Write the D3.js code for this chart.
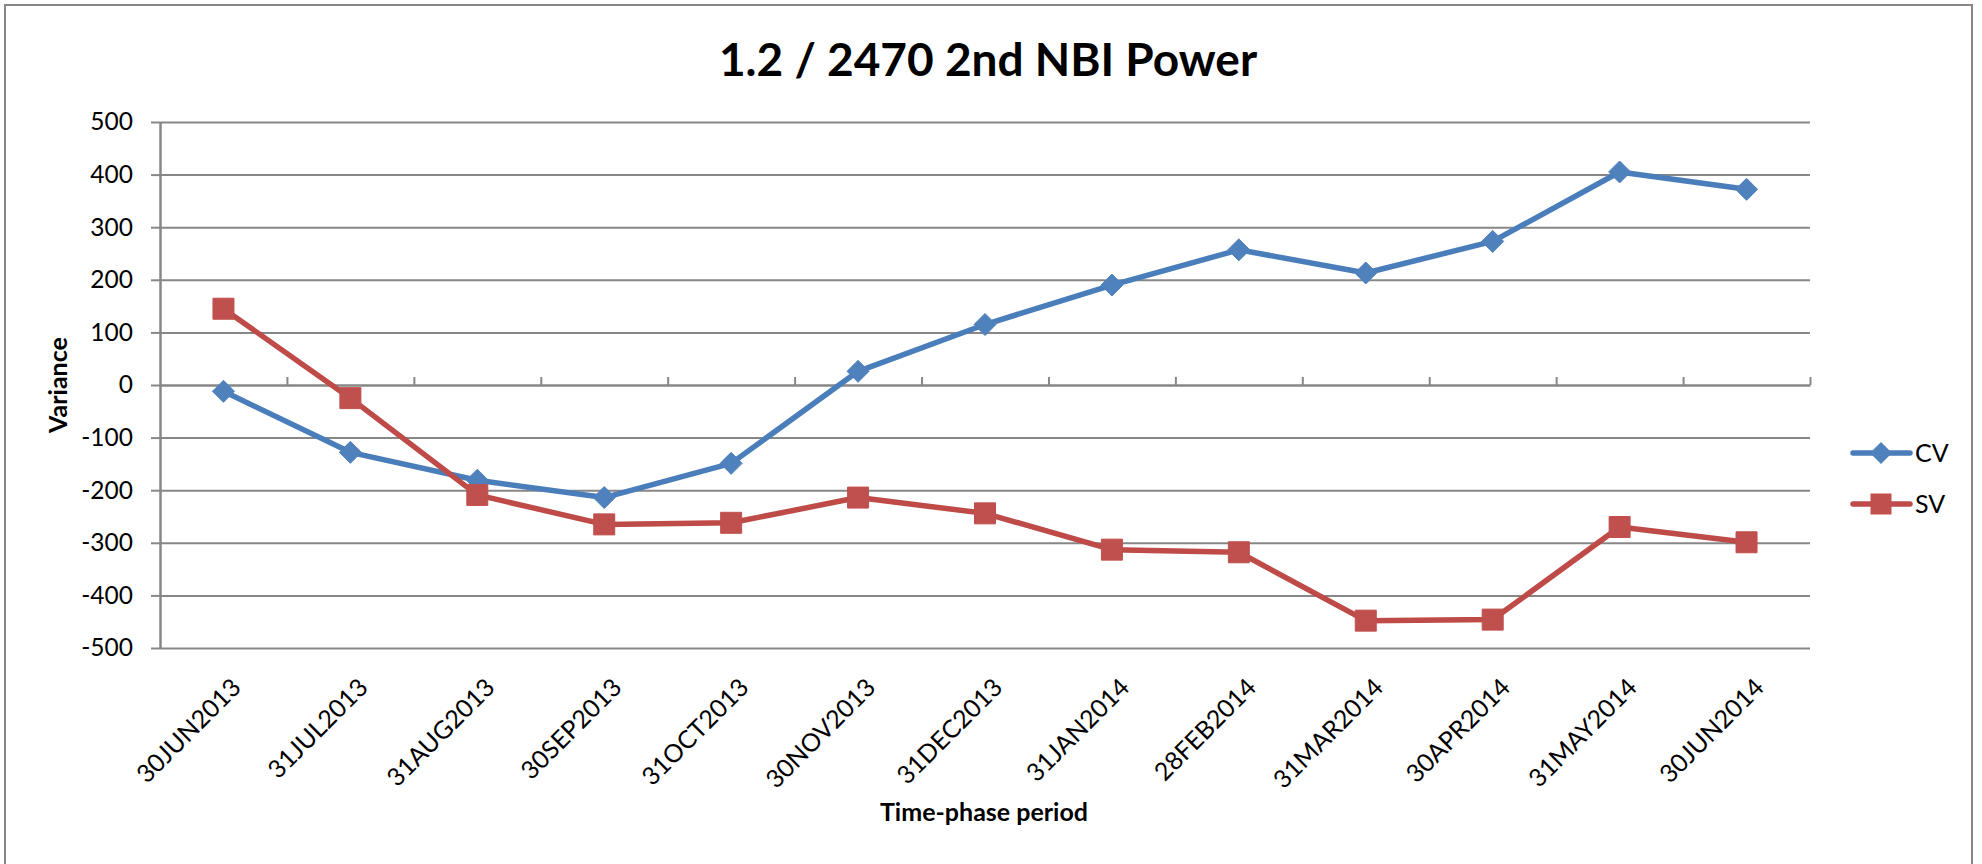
<!DOCTYPE html>
<html>
<head>
<meta charset="utf-8">
<script src="https://cdnjs.cloudflare.com/ajax/libs/d3/7.8.5/d3.min.js"></script>
<style>
  html, body { margin: 0; padding: 0; background: #fff; }
  svg { display: block; }
</style>
</head>
<body>
<div id="chart"></div>
<script>
// ---- data ----
const categories = ["30JUN2013","31JUL2013","31AUG2013","30SEP2013","31OCT2013","30NOV2013","31DEC2013","31JAN2014","28FEB2014","31MAR2014","30APR2014","31MAY2014","30JUN2014"];
const cvValues = [-12, -128, -181, -214, -149, 26, 115, 190, 257, 213, 273, 405, 372];
const svValues = [145, -25, -209, -265, -262, -214, -244, -313, -318, -448, -446, -270, -299];
const yTickValues = [-500, -400, -300, -200, -100, 0, 100, 200, 300, 400, 500];
const seriesNames = ["CV", "SV"];
const titleText = "1.2 / 2470 2nd NBI Power";
const xTitle = "Time-phase period";
const yTitle = "Variance";

// ---- layout ----
const W = 1982, H = 864;
const plot = { left: 160, right: 1810, top: 122, bottom: 648 };
const gridColor = "#878787";
const cvLine = "#4A7EBB", cvFill = "#4F81BD";
const svLine = "#BE4B48", svFill = "#C0504D";
const FONT = "Lato, 'Open Sans', sans-serif";

const svg = d3.select("#chart").append("svg")
  .attr("width", W).attr("height", H);

svg.append("rect").attr("width", W).attr("height", H).attr("fill", "#fff");
svg.append("rect")
  .attr("x", 5).attr("y", 5).attr("width", 1967).attr("height", 920)
  .attr("fill", "none").attr("stroke", gridColor).attr("stroke-width", 2);

const x = d3.scaleBand().domain(categories).range([plot.left, plot.right]).paddingInner(0).paddingOuter(0);
const xc = d => x(d) + x.bandwidth() / 2;
const y = d3.scaleLinear().domain([-500, 500]).range([plot.bottom, plot.top]);
const xBound = d3.scaleLinear().domain([0, categories.length]).range([plot.left, plot.right]);

// gridlines
const grid = svg.append("g").attr("transform", `translate(${plot.left},0)`)
  .call(d3.axisLeft(y).tickValues(yTickValues.filter(v => v !== 0)).tickSize(-(plot.right - plot.left)).tickFormat(""));
grid.select(".domain").remove();
grid.selectAll("line").attr("stroke", gridColor).attr("stroke-width", 2);

// y axis
const yAxis = svg.append("g").attr("transform", `translate(${plot.left},0)`)
  .call(d3.axisLeft(y).tickValues(yTickValues).tickSize(9).tickSizeOuter(0).tickPadding(18).tickFormat(d3.format("d")));
yAxis.select(".domain").attr("stroke", gridColor).attr("stroke-width", 2.5);
yAxis.selectAll("line").attr("stroke", gridColor).attr("stroke-width", 2);
yAxis.selectAll("text").attr("font-family", FONT).attr("font-size", 24.5).attr("fill", "#000")
  .text(d => d < 0 ? "-" + Math.abs(d) : d);

// x axis line at 0 with boundary ticks pointing up
const xAxis = svg.append("g").attr("transform", `translate(0,${y(0)})`)
  .call(d3.axisTop(xBound).tickValues(d3.range(1, categories.length + 1)).tickSize(8).tickSizeOuter(0).tickFormat(""));
xAxis.select(".domain").attr("stroke", gridColor).attr("stroke-width", 2.5);
xAxis.selectAll("line").attr("stroke", gridColor).attr("stroke-width", 2);

// category labels
svg.append("g").selectAll("text").data(categories).join("text")
  .attr("transform", d => `translate(${xc(d) + 19},${689}) rotate(-45)`)
  .attr("text-anchor", "end")
  .attr("font-family", FONT).attr("font-size", 25).attr("fill", "#000")
  .text(d => d);

// titles
svg.append("text").attr("x", 988).attr("y", 76).attr("text-anchor", "middle")
  .attr("font-family", FONT).attr("font-weight", "bold").attr("font-size", 46).attr("fill", "#000")
  .text(titleText);
svg.append("text").attr("x", 984).attr("y", 821).attr("text-anchor", "middle")
  .attr("font-family", FONT).attr("font-weight", "bold").attr("font-size", 25).attr("fill", "#000")
  .text(xTitle);
svg.append("text").attr("transform", `translate(67,${(plot.top + plot.bottom) / 2}) rotate(-90)`)
  .attr("text-anchor", "middle")
  .attr("font-family", FONT).attr("font-weight", "bold").attr("font-size", 25).attr("fill", "#000")
  .text(yTitle);

// lines
const line = d3.line().x((d, i) => xc(categories[i])).y(d => y(d));
const series = [
  { name: seriesNames[0], values: cvValues, stroke: cvLine, fill: cvFill, shape: "diamond" },
  { name: seriesNames[1], values: svValues, stroke: svLine, fill: svFill, shape: "square" }
];
const diamond = s => `M0,${-s}L${s},0L0,${s}L${-s},0Z`;
const square = s => `M${-s},${-s}H${s}V${s}H${-s}Z`;
const markerPath = shape => shape === "diamond" ? diamond(11) : square(10.5);

series.forEach(s => {
  svg.append("path").datum(s.values).attr("d", line)
    .attr("fill", "none").attr("stroke", s.stroke).attr("stroke-width", 5.5)
    .attr("stroke-linejoin", "round").attr("stroke-linecap", "round");
});
series.forEach(s => {
  svg.append("g").selectAll("path").data(s.values).join("path")
    .attr("transform", (d, i) => `translate(${xc(categories[i])},${y(d)})`)
    .attr("d", markerPath(s.shape))
    .attr("fill", s.fill).attr("stroke", s.fill).attr("stroke-width", 1);
});

// legend
const legendY = [453, 504];
series.forEach((s, i) => {
  const g = svg.append("g").attr("transform", `translate(0,${legendY[i]})`);
  g.append("line").attr("x1", 1853).attr("x2", 1910).attr("y1", 0).attr("y2", 0)
    .attr("stroke", s.stroke).attr("stroke-width", 5.5).attr("stroke-linecap", "round");
  g.append("path").attr("transform", "translate(1881,0)").attr("d", markerPath(s.shape)).attr("fill", s.fill);
  g.append("text").attr("x", 1915).attr("y", 0).attr("dy", "0.35em")
    .attr("font-family", FONT).attr("font-size", 25).attr("fill", "#000").text(s.name);
});
</script>
</body>
</html>
